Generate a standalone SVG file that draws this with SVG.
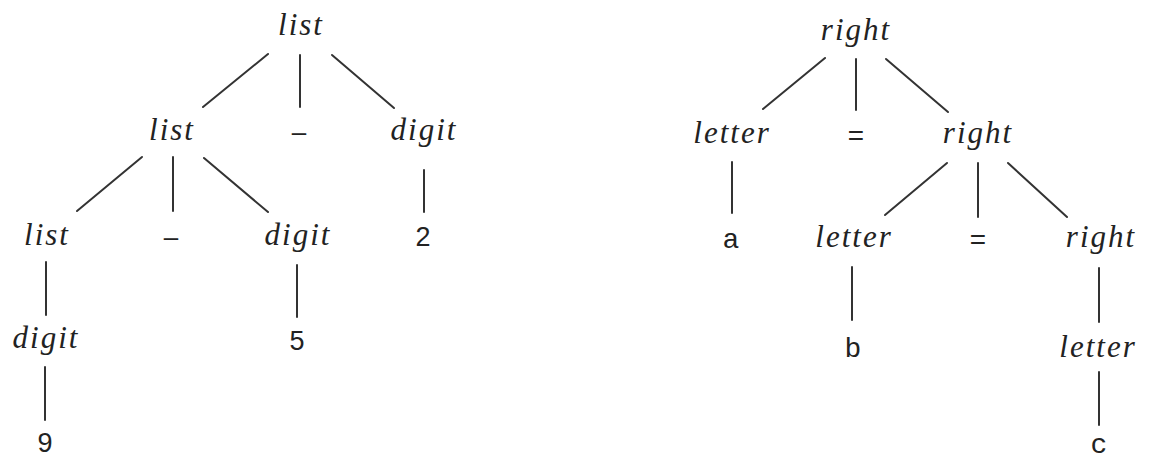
<svg xmlns="http://www.w3.org/2000/svg" width="1156" height="459" viewBox="0 0 1156 459">
<style>
.nt{font-family:"Liberation Serif",serif;font-style:italic;font-size:31px;letter-spacing:2px;fill:#222;text-anchor:middle}
.num{font-family:"Liberation Sans",sans-serif;font-size:27px;fill:#222;text-anchor:middle}
.mono{font-family:"Liberation Mono",monospace;font-size:28px;fill:#222;text-anchor:middle}
.dash{font-family:"Liberation Sans",sans-serif;font-size:26px;fill:#222;text-anchor:middle}
.edges line{stroke:#333;stroke-width:2;stroke-linecap:round}
</style>
<rect width="1156" height="459" fill="#fff"/>
<g class="edges" id="connectors">
<line x1="268" y1="54" x2="203" y2="107"/>
<line x1="300" y1="55" x2="300" y2="107"/>
<line x1="332" y1="55" x2="394" y2="108"/>
<line x1="142" y1="157" x2="77" y2="211"/>
<line x1="173" y1="157" x2="173" y2="211"/>
<line x1="204" y1="158" x2="268" y2="212"/>
<line x1="424" y1="170" x2="424" y2="212"/>
<line x1="46" y1="262" x2="46" y2="315"/>
<line x1="297" y1="265" x2="297" y2="317"/>
<line x1="45" y1="367" x2="45" y2="420"/>
<line x1="825" y1="58" x2="763" y2="109"/>
<line x1="856" y1="59" x2="856" y2="110"/>
<line x1="886" y1="59" x2="948" y2="112"/>
<line x1="732" y1="162" x2="732" y2="213"/>
<line x1="947" y1="163" x2="885" y2="215"/>
<line x1="978" y1="163" x2="978" y2="217"/>
<line x1="1008" y1="163" x2="1067" y2="217"/>
<line x1="852" y1="267" x2="852" y2="320"/>
<line x1="1099" y1="268" x2="1099" y2="322"/>
<line x1="1099" y1="372" x2="1099" y2="425"/>
</g>
<g id="l-root"><text class="nt" x="301" y="35">list</text></g>
<g id="l-list2"><text class="nt" x="172" y="140">list</text></g>
<g id="l-minus2"><text class="dash" x="299" y="141">–</text></g>
<g id="l-digit2"><text class="nt" x="424" y="140">digit</text></g>
<g id="l-list3"><text class="nt" x="47" y="245">list</text></g>
<g id="l-minus3"><text class="dash" x="171" y="246">–</text></g>
<g id="l-digit3"><text class="nt" x="298" y="245">digit</text></g>
<g id="l-two"><text class="num" x="423" y="246">2</text></g>
<g id="l-digit4"><text class="nt" x="46" y="348">digit</text></g>
<g id="l-five"><text class="num" x="297" y="350">5</text></g>
<g id="l-nine"><text class="num" x="45" y="452">9</text></g>
<g id="r-root"><text class="nt" x="856" y="40">right</text></g>
<g id="r-letter2"><text class="nt" x="732" y="143">letter</text></g>
<g id="r-eq2"><text class="mono" x="856" y="145">=</text></g>
<g id="r-right2"><text class="nt" x="978" y="143">right</text></g>
<g id="r-a"><text class="mono" x="731" y="248">a</text></g>
<g id="r-letter3"><text class="nt" x="854" y="247">letter</text></g>
<g id="r-eq3"><text class="mono" x="978" y="249">=</text></g>
<g id="r-right3"><text class="nt" x="1101" y="247">right</text></g>
<g id="r-b"><text class="mono" x="853" y="357">b</text></g>
<g id="r-letter4"><text class="nt" x="1098" y="357">letter</text></g>
<g id="r-c"><text class="mono" x="1099" y="453">c</text></g>
</svg>
